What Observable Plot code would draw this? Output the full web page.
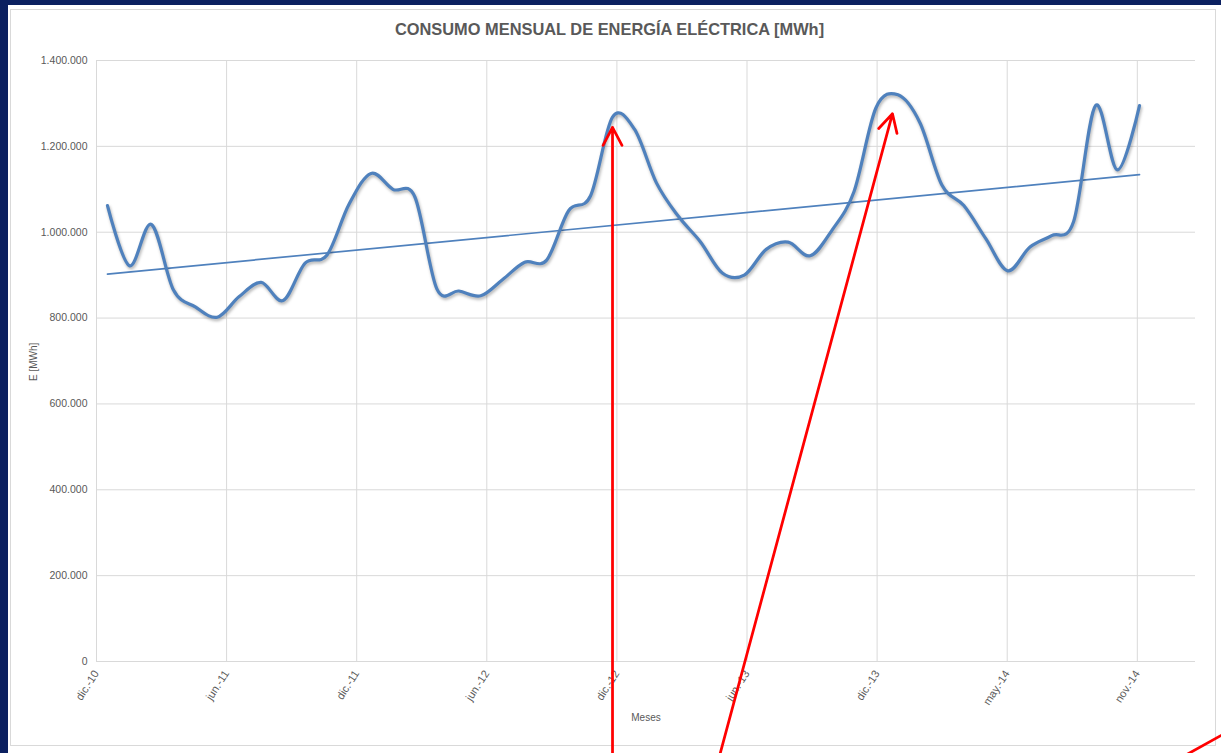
<!DOCTYPE html>
<html>
<head>
<meta charset="utf-8">
<script src="https://cdn.jsdelivr.net/npm/d3@7"></script>
<script src="https://cdn.jsdelivr.net/npm/@observablehq/plot@0.6"></script>
<style>
  html, body { margin: 0; padding: 0; }
  body {
    width: 1221px; height: 753px; position: relative; overflow: hidden;
    background: #0b2060;
    font-family: "Liberation Sans", Arial, sans-serif;
  }
  #sheet { position: absolute; left: 8px; top: 5px; width: 1213px; height: 748px; background: #fff; }
  #card { position: absolute; left: 10px; top: 9px; width: 1204px; height: 735px; border: 1px solid #d9d9d9; }
  #title {
    position: absolute; left: 0; top: 20px; width: 1219px; text-align: center;
    font: bold 16.4px "Liberation Sans", Arial, sans-serif; color: #595959;
  }
  #chart { position: absolute; left: 0; top: 0; }
</style>
</head>
<body>
<div id="sheet"></div>
<div id="card"></div>
<div id="title">CONSUMO MENSUAL DE ENERGÍA ELÉCTRICA [MWh]</div>
<div id="chart"></div>
<script>
// Meses del período (dic-10 a nov-14)
const meses = [
  "dic-10",
  "ene-11","feb-11","mar-11","abr-11","may-11","jun-11","jul-11","ago-11","sep-11","oct-11","nov-11","dic-11",
  "ene-12","feb-12","mar-12","abr-12","may-12","jun-12","jul-12","ago-12","sep-12","oct-12","nov-12","dic-12",
  "ene-13","feb-13","mar-13","abr-13","may-13","jun-13","jul-13","ago-13","sep-13","oct-13","nov-13","dic-13",
  "ene-14","feb-14","mar-14","abr-14","may-14","jun-14","jul-14","ago-14","sep-14","oct-14","nov-14"
];

// Consumo mensual de energía eléctrica [MWh]
const consumo = [
  1062000,
  922000, 1018000, 866000, 826000, 802000, 850000, 883000, 841000, 928000, 947000, 1065000, 1137000,
  1100000, 1082000, 868000, 863000, 852000, 890000, 930000, 935000, 1050000, 1085000, 1268000, 1240000,
  1115000, 1037000, 978000, 905000, 900000, 960000, 977000, 945000, 1005000, 1095000, 1290000, 1320000,
  1255000, 1110000, 1062000, 985000, 910000, 965000, 992000, 1025000, 1295000, 1145000, 1295000
];

// Etiquetas del eje de meses
const etiquetasX = ["dic.-10","jun.-11","dic.-11","jun.-12","dic.-12","jun.-13","dic.-13","may.-14","nov.-14"];

// Valores del eje de energía
const ticksY = [0, 200000, 400000, 600000, 800000, 1000000, 1200000, 1400000];

// Flechas de anotación (en unidades de mes y MWh)
const flechas = [
  {x1: 23, y1: -230000, x2: 23, y2: 1244000},
  {x1: 27.82, y1: -230000, x2: 35.75, y2: 1276000},
  {x1: 48.68, y1: -230000, x2: 52, y2: -136000}
];

const datos = meses.map((mes, i) => ({i, mes, energia: consumo[i]}));

// Posición de las marcas del eje de meses
const tickStart = -0.5, tickStep = 5.925;
const tickPos = etiquetasX.map((_, k) => tickStart + k * tickStep);
const etiquetaDe = new Map(tickPos.map((p, k) => [p, etiquetasX[k]]));

const es = d3.formatLocale({decimal: ",", thousands: ".", grouping: [3], currency: ["", "€"]});
const fmtY = es.format(",d");

const grid = {stroke: "#d9d9d9", strokeOpacity: 1, strokeWidth: 1};

const chart = Plot.plot({
  width: 1221,
  height: 753,
  marginLeft: 96,
  marginRight: 26,
  marginTop: 60,
  marginBottom: 92,
  style: {background: "transparent", overflow: "visible", fontFamily: "Liberation Sans, Arial, sans-serif", color: "#595959"},
  x: {type: "linear", domain: [-0.5, 49.55]},
  y: {domain: [0, 1400000]},
  marks: [
    Plot.gridY(ticksY, grid),
    Plot.gridX(tickPos, grid),
    Plot.axisY(ticksY, {tickSize: 0, tickPadding: 9, tickFormat: fmtY, fontSize: 10.5, label: null}),
    Plot.axisX(tickPos, {tickSize: 0, tickPadding: 10, tickRotate: -57, tickFormat: d => etiquetaDe.get(d), fontSize: 11, label: null}),
    Plot.text(["E [MWh]"], {text: d => d, frameAnchor: "left", dx: -63, dy: 20, rotate: -90, fontSize: 10, fill: "#595959"}),
    Plot.text(["Meses"], {text: d => d, frameAnchor: "bottom", dy: 59, fontSize: 10, fill: "#595959"}),
    Plot.linearRegressionY(datos, {x: "i", y: "energia", stroke: "#4f81bd", strokeWidth: 1.7, ci: 0}),
    Plot.line(datos, {x: "i", y: "energia", curve: "cardinal", stroke: "#4f81bd", strokeWidth: 3.2}),
    Plot.arrow(flechas, {x1: "x1", y1: "y1", x2: "x2", y2: "y2", stroke: "#ff0000", strokeWidth: 2.75, headLength: 11, headAngle: 56})
  ]
});

// Sombra suave de la serie principal
chart.querySelectorAll('g[aria-label="line"] path').forEach(p => {
  p.style.filter = "drop-shadow(1px 2px 1.5px rgba(0,0,0,0.3))";
});

document.getElementById("chart").appendChild(chart);
</script>
</body>
</html>
